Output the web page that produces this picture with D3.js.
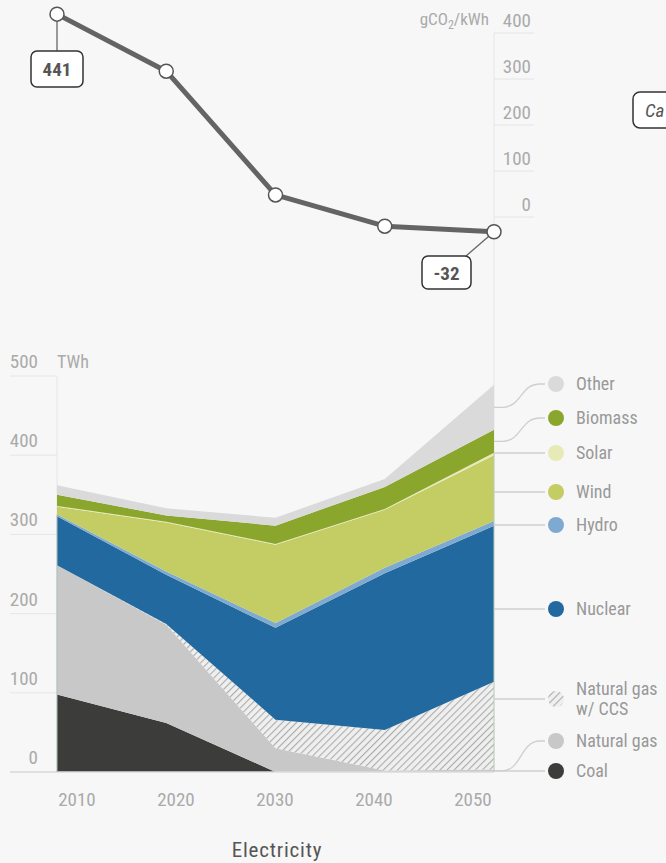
<!DOCTYPE html>
<html>
<head>
<meta charset="utf-8">
<script src="https://cdn.jsdelivr.net/npm/d3@7"></script>
<style>
  html, body { margin: 0; padding: 0; background: #f7f7f7; }
  svg { display: block; font-family: "Roboto Condensed", "Liberation Sans Narrow", "Arial Narrow", "Roboto", sans-serif; }
</style>
</head>
<body>
<svg id="chart" width="666" height="863"></svg>
<script>
// Years on the shared x axis
const years = [2010, 2020, 2030, 2040, 2050];

// Carbon intensity of electricity, gCO2/kWh
const intensity = [441, 317, 48, -20, -32];
const intensityTicks = [0, 100, 200, 300, 400];

// Electricity generation by source, TWh
const coal       = [98, 62, 0, 0, 0];
const naturalGas = [163, 124, 30, 2, 3];
const gasCCS     = [0, 1, 36, 51, 111];
const nuclear    = [62, 62, 116, 198, 197];
const hydro      = [2, 4, 6, 7, 6];
const wind       = [10, 62, 99, 73, 83];
const solar      = [1, 1, 1, 1, 3];
const biomass    = [14, 8, 23, 28, 29];
const other      = [12, 9, 10, 10, 57];
const twhTicks = [0, 100, 200, 300, 400, 500];

const sources = [
  { key: "coal",    label: ["Coal"],                  values: coal,       color: "#3c3c3b" },
  { key: "gas",     label: ["Natural gas"],           values: naturalGas, color: "#c8c8c8" },
  { key: "ccs",     label: ["Natural gas", "w/ CCS"], values: gasCCS,     color: "url(#hatch)" },
  { key: "nuclear", label: ["Nuclear"],               values: nuclear,    color: "#22699f" },
  { key: "hydro",   label: ["Hydro"],                 values: hydro,      color: "#7eaad2" },
  { key: "wind",    label: ["Wind"],                  values: wind,       color: "#c4cc64" },
  { key: "solar",   label: ["Solar"],                 values: solar,      color: "#e7eab6" },
  { key: "biomass", label: ["Biomass"],               values: biomass,    color: "#8aa62d" },
  { key: "other",   label: ["Other"],                 values: other,      color: "#dadada" }
];

// Legend placement (label y) for each source; curved leaders bend from the band's middle
const legendY = { other: 384, biomass: 418, solar: 453, wind: 492, hydro: 525,
                  nuclear: 609, ccs: 699, gas: 741, coal: 771 };
const curvedLeaders = ["other", "biomass", "gas"];

const svg = d3.select("#chart");

// Hatch pattern for gas with CCS
const defs = svg.append("defs");
const pat = defs.append("pattern")
  .attr("id", "hatch").attr("patternUnits", "userSpaceOnUse")
  .attr("width", 5).attr("height", 5)
  .attr("patternTransform", "rotate(45)");
pat.append("rect").attr("width", 5).attr("height", 5).attr("fill", "#efefef");
pat.append("line").attr("x1", 0).attr("y1", 0).attr("x2", 0).attr("y2", 5)
  .attr("stroke", "#ababab").attr("stroke-width", 2.2);

const x = d3.scalePoint().domain(years).range([57, 494]);
const xLabel = d3.scalePoint().domain(years).range([77, 473]);

// ---------- Top panel: carbon intensity ----------
const yTop = d3.scaleLinear().domain([0, 400]).range([217, 33]);

const topAxis = svg.append("g");
topAxis.selectAll("line.grid").data(intensityTicks).join("line")
  .attr("x1", 494).attr("x2", 534)
  .attr("y1", d => yTop(d)).attr("y2", d => yTop(d))
  .attr("stroke", "#e4e4e4").attr("stroke-width", 1);
topAxis.selectAll("text").data(intensityTicks).join("text")
  .attr("x", 531).attr("y", d => yTop(d) - 6)
  .attr("text-anchor", "end").attr("font-size", 19).attr("fill", "#aaa")
  .text(d => d);

const unitTop = svg.append("text").attr("x", 489).attr("y", 25)
  .attr("text-anchor", "end").attr("font-size", 17).attr("fill", "#aaa");
unitTop.append("tspan").text("gCO");
unitTop.append("tspan").attr("font-size", 12).attr("dy", 4).text("2");
unitTop.append("tspan").attr("dy", -4).text("/kWh");

// Shared vertical rule at 2050
svg.append("line").attr("x1", 494).attr("x2", 494).attr("y1", 33).attr("y2", 772)
  .attr("stroke", "#e6e6e6").attr("stroke-width", 1);

// ---------- Bottom panel: generation ----------
const yBot = d3.scaleLinear().domain([0, 500]).range([772, 376]);

const botAxis = svg.append("g");
botAxis.selectAll("line.grid").data(twhTicks).join("line")
  .attr("x1", 10).attr("x2", 57)
  .attr("y1", d => yBot(d)).attr("y2", d => yBot(d))
  .attr("stroke", "#e6e6e6").attr("stroke-width", 1);
botAxis.selectAll("text").data(twhTicks).join("text")
  .attr("x", 38).attr("y", d => yBot(d) - 8)
  .attr("text-anchor", "end").attr("font-size", 19).attr("fill", "#aaa")
  .text(d => d);
svg.append("line").attr("x1", 57).attr("x2", 57).attr("y1", 376).attr("y2", 772)
  .attr("stroke", "#e6e6e6");
svg.append("text").attr("x", 57).attr("y", 368).attr("font-size", 18)
  .attr("fill", "#aaa").text("TWh");

// Stack the sources
const table = years.map((yr, i) => {
  const row = { year: yr };
  sources.forEach(s => { row[s.key] = s.values[i]; });
  return row;
});
const stack = d3.stack().keys(sources.map(s => s.key));
const series = stack(table);

const area = d3.area()
  .x(d => x(d.data.year))
  .y0(d => yBot(d[0]))
  .y1(d => yBot(d[1]));

svg.append("g").selectAll("path").data(series).join("path")
  .attr("d", area)
  .attr("fill", (d, i) => sources[i].color);

// Baseline
svg.append("line").attr("x1", 10).attr("x2", 494).attr("y1", 772).attr("y2", 772)
  .attr("stroke", "#d8dcda").attr("stroke-width", 1.5);
// Thin edges of the stacked block
const last = years.length - 1;
svg.append("line").attr("x1", 57).attr("x2", 57)
  .attr("y1", yBot(series[4][0][1])).attr("y2", 772)
  .attr("stroke", "#a9bdb6").attr("stroke-width", 1);
svg.append("line").attr("x1", 494).attr("x2", 494)
  .attr("y1", yBot(series[6][last][1])).attr("y2", 772)
  .attr("stroke", "#bccdb9").attr("stroke-width", 1);

// X axis labels
svg.append("g").selectAll("text").data(years).join("text")
  .attr("x", d => xLabel(d)).attr("y", 806)
  .attr("text-anchor", "middle").attr("font-size", 19).attr("fill", "#aaa")
  .text(d => d);

svg.append("text").attr("x", 277).attr("y", 857).attr("text-anchor", "middle")
  .attr("font-size", 21).attr("fill", "#555").attr("letter-spacing", 0.8)
  .text("Electricity");

// Legend with leaders from the 2050 edge
const legend = svg.append("g");
series.forEach((s, i) => {
  const src = sources[i];
  const mid = yBot((s[last][0] + s[last][1]) / 2);
  const ly = legendY[src.key];
  const x0 = 494, x1 = 545;
  let path;
  if (!curvedLeaders.includes(src.key)) {
    path = `M${x0},${ly}L${x1},${ly}`;
  } else {
    path = `M${x0},${mid}L${x0 + 8},${mid}C${x0 + 28},${mid} ${x0 + 26},${ly} ${x0 + 46},${ly}L${x1},${ly}`;
  }
  legend.append("path").attr("d", path).attr("fill", "none")
    .attr("stroke", "#cfcfcf").attr("stroke-width", 1.3);
  legend.append("circle").attr("cx", 556).attr("cy", ly).attr("r", 8)
    .attr("fill", src.color);
  const t = legend.append("text").attr("x", 576).attr("font-size", 18).attr("fill", "#999");
  if (src.label.length === 1) {
    t.attr("y", ly + 6).text(src.label[0]);
  } else {
    t.attr("y", ly - 4);
    t.append("tspan").attr("x", 576).text(src.label[0]);
    t.append("tspan").attr("x", 576).attr("dy", 20).text(src.label[1]);
  }
});

// Intensity line
const line = d3.line().x((d, i) => x(years[i])).y(d => yTop(d));
svg.append("path").datum(intensity).attr("d", line)
  .attr("fill", "none").attr("stroke", "#646464").attr("stroke-width", 5)
  .attr("stroke-linejoin", "round");

// Value callouts for first and last points
const firstPt = [x(years[0]), yTop(intensity[0])];
const lastPt = [x(years[last]), yTop(intensity[last])];
svg.append("line").attr("x1", firstPt[0]).attr("y1", firstPt[1])
  .attr("x2", firstPt[0]).attr("y2", 51).attr("stroke", "#666").attr("stroke-width", 1.3);
svg.append("line").attr("x1", lastPt[0]).attr("y1", lastPt[1])
  .attr("x2", 466).attr("y2", 256).attr("stroke", "#666").attr("stroke-width", 1.3);

svg.append("g").selectAll("circle").data(intensity).join("circle")
  .attr("cx", (d, i) => x(years[i])).attr("cy", d => yTop(d)).attr("r", 7)
  .attr("fill", "#fff").attr("stroke", "#555").attr("stroke-width", 1.5);

function callout(cx, top, w, h, txt) {
  svg.append("rect").attr("x", cx - w / 2).attr("y", top).attr("width", w).attr("height", h)
    .attr("rx", 6).attr("fill", "#fff").attr("stroke", "#333").attr("stroke-width", 1.5);
  svg.append("text").attr("x", cx).attr("y", top + h / 2 + 7).attr("text-anchor", "middle")
    .attr("font-size", 19).attr("font-weight", "bold").attr("fill", "#555").text(txt);
}
callout(57, 51, 52, 36, intensity[0]);
callout(446.5, 256, 49, 33, intensity[last]);

// Side note box at the right margin
svg.append("rect").attr("x", 633).attr("y", 92).attr("width", 150).attr("height", 36)
  .attr("rx", 7).attr("fill", "#fff").attr("stroke", "#333").attr("stroke-width", 1.5);
svg.append("text").attr("x", 645).attr("y", 117).attr("font-size", 19)
  .attr("font-style", "italic").attr("fill", "#555").text("Ca");
</script>
</body>
</html>
